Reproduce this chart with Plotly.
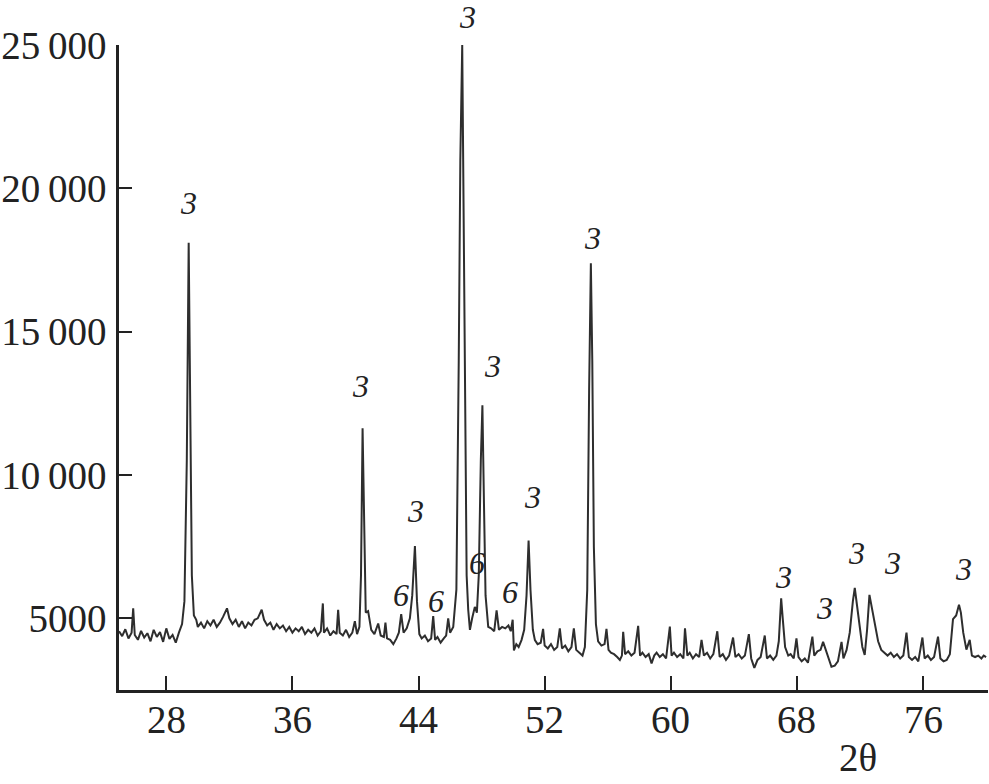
import plotly.graph_objects as go

# ---- Data ----
two_theta = [
    25.0, 25.2, 25.4, 25.6, 25.8, 25.9, 26.0, 26.2, 26.4, 26.6, 26.8, 27.0, 27.2, 27.4, 27.6, 27.8,
    28.0, 28.2, 28.4, 28.6, 28.8, 29.0, 29.15, 29.3, 29.42, 29.52, 29.62, 29.75, 29.9,
    30.0, 30.2, 30.4, 30.6, 30.8, 31.0, 31.2, 31.4, 31.6, 31.85, 32.0, 32.2, 32.4, 32.6, 32.8,
    33.0, 33.2, 33.4, 33.6, 33.8, 34.05, 34.2, 34.4, 34.6, 34.8, 35.0, 35.2, 35.4, 35.6, 35.8,
    36.0, 36.2, 36.4, 36.6, 36.8, 37.0, 37.2, 37.4, 37.6, 37.8, 37.93, 38.0, 38.2, 38.4, 38.6,
    38.8, 38.9, 39.0, 39.2, 39.4, 39.6, 39.8, 39.96, 40.1, 40.25, 40.35, 40.45, 40.55, 40.65,
    40.8, 41.0, 41.2, 41.44, 41.6, 41.8, 41.9, 42.0, 42.2, 42.4, 42.6, 42.75, 42.9, 43.05,
    43.25, 43.45, 43.6, 43.77, 43.9, 44.05, 44.2, 44.4, 44.6, 44.8, 44.93, 45.05, 45.2, 45.4,
    45.6, 45.75, 45.88, 46.0, 46.2, 46.4, 46.55, 46.65, 46.77, 46.85, 46.95, 47.05, 47.15,
    47.26, 47.4, 47.57, 47.7, 47.82, 47.95, 48.05, 48.15, 48.25, 48.42, 48.6, 48.8, 48.95,
    49.1, 49.3, 49.5, 49.7, 49.85, 49.97, 50.05, 50.2, 50.35, 50.53, 50.7, 50.85, 50.98, 51.1,
    51.25, 51.38, 51.55, 51.75, 51.9, 52.0, 52.2, 52.4, 52.6, 52.8, 52.96, 53.1, 53.3, 53.5,
    53.7, 53.85, 54.0, 54.2, 54.4, 54.55, 54.7, 54.82, 54.93, 55.02, 55.12, 55.25, 55.39,
    55.6, 55.8, 55.92, 56.05, 56.2, 56.4, 56.6, 56.77, 56.9, 56.98, 57.1, 57.3, 57.5, 57.7,
    57.93, 58.05, 58.2, 58.4, 58.6, 58.78, 58.95, 59.1, 59.3, 59.5, 59.7, 59.94, 60.05, 60.2,
    60.4, 60.6, 60.8, 60.9, 61.05, 61.2, 61.4, 61.6, 61.8, 61.95, 62.1, 62.3, 62.5, 62.7,
    62.95, 63.1, 63.3, 63.5, 63.7, 63.95, 64.1, 64.3, 64.5, 64.7, 64.95, 65.1, 65.3, 65.5,
    65.7, 65.96, 66.1, 66.3, 66.5, 66.7, 66.85, 67.0, 67.1, 67.25, 67.45, 67.6, 67.8, 67.97,
    68.1, 68.3, 68.5, 68.7, 68.98, 69.1, 69.3, 69.5, 69.66, 69.8, 70.0, 70.19, 70.4, 70.6,
    70.83, 70.95, 71.15, 71.35, 71.55, 71.67, 71.8, 71.99, 72.15, 72.3, 72.45, 72.6, 72.75,
    72.94, 73.15, 73.35, 73.55, 73.75, 73.95, 74.15, 74.35, 74.55, 74.75, 74.95, 75.1, 75.3,
    75.5, 75.7, 75.96, 76.1, 76.3, 76.5, 76.7, 76.95, 77.1, 77.3, 77.5, 77.7, 77.9, 78.1,
    78.28, 78.4, 78.55, 78.75, 78.96, 79.1, 79.3, 79.5, 79.7, 79.85, 80.0,
]

intensity = [
    4550, 4380, 4620, 4300, 4500, 5350, 4420, 4250, 4560, 4330, 4480, 4200, 4600, 4350, 4520, 4180,
    4650, 4280, 4420, 4150, 4500, 4800, 5600, 10500, 18100, 12000, 6500, 5100, 4950,
    4700, 4850, 4650, 4900, 4750, 4950, 4700, 4850, 5050, 5350, 5000, 4800, 4950, 4700, 4900,
    4650, 4850, 4750, 4950, 5000, 5300, 4950, 4750, 4850, 4600, 4800, 4650, 4750, 4550, 4700,
    4500, 4650, 4550, 4700, 4450, 4600, 4500, 4650, 4400, 4550, 5520, 4500, 4650, 4400, 4550,
    4450, 5300, 4500, 4400, 4600, 4350, 4500, 4900, 4450, 4700, 6500, 11630, 8000, 5200,
    5250, 4600, 4450, 4820, 4400, 4350, 4850, 4300, 4250, 4100, 4300, 4500, 5150, 4500,
    4650, 5000, 5800, 7520, 5600, 4450, 4300, 4400, 4200, 4300, 5080, 4250, 4350, 4150,
    4300, 4400, 5000, 4500, 4700, 6000, 14000, 21000, 25000, 20000, 11000, 6500, 5300,
    4600, 5000, 5400, 5200, 6500, 10500, 12430, 9000, 5800, 4700, 4650, 4550, 5280,
    4600, 4700, 4650, 4750, 4550, 4950, 3880, 4100, 4000, 4240, 4600, 5800, 7710, 6000,
    4600, 4240, 4100, 4150, 4630, 4050, 3950, 4100, 3900, 4000, 4650, 3950, 4050, 3850,
    4000, 4650, 3900, 3800, 3700, 4000, 6000, 13000, 17390, 14000, 7500, 4800, 4200,
    4050, 4100, 4630, 3900, 3800, 3750, 3650, 3550, 3700, 4530, 3750, 3850, 3700, 3800,
    4740, 3700, 3800, 3650, 3750, 3430, 3700, 3800, 3650, 3750, 3600, 4710, 3700, 3800,
    3650, 3750, 3600, 4650, 3700, 3800, 3600, 3750, 3650, 4250, 3700, 3800, 3600, 3750,
    4550, 3650, 3750, 3550, 3700, 4330, 3650, 3750, 3600, 3700, 4450, 3600, 3270, 3550,
    3650, 4400, 3600, 3700, 3550, 3700, 4200, 5700, 5000, 4000, 3700, 3750, 3600, 4300,
    3650, 3500, 3600, 3450, 4360, 3700, 3850, 3900, 4180, 3950, 3600, 3310, 3350, 3500,
    4180, 3600, 3900, 4500, 5600, 6060, 5500, 4740, 4000, 3720, 4600, 5820, 5400,
    4860, 4200, 3900, 3800, 3700, 3800, 3650, 3750, 3600, 3700, 4500, 3650, 3550,
    3650, 3500, 4330, 3600, 3700, 3550, 3650, 4360, 3600, 3500, 3550, 3750, 4975, 5100,
    5470, 5200, 4500, 3910, 4250, 3700, 3650, 3700, 3600, 3700, 3650,
]

# Peak phase labels (label above main peak sits just above the 25 000 limit)
label_x = [29.39, 40.33, 43.83, 47.11, 48.70, 51.21, 55.06, 42.86, 45.10, 47.68, 49.79,
           67.12, 69.77, 71.78, 74.04, 78.58]
label_y = [19476, 13104, 8754, 25985, 13801, 9221, 18266, 5814, 5615, 6919, 5929,
           6452, 5350, 7268, 6919, 6710]
label_text = ["3", "3", "3", "3", "3", "3", "3", "6", "6", "6", "6",
              "3", "3", "3", "3", "3"]

x_ticks = [28, 36, 44, 52, 60, 68, 76]
x_ticktext = ["28", "36", "44", "52", "60", "68", "76"]
y_ticks = [5000, 10000, 15000, 20000, 25000]
y_ticktext = ["5000", "10\u2009000", "15\u2009000", "20\u2009000", "25\u2009000"]
x_title = "2θ"

Y_MIN, Y_MAX = 2500, 25000
X_MIN, X_MAX = 25, 80.12
PLOT_H = 645  # plot-area height in px

FONT = "Liberation Serif, Times New Roman, serif"
AX = "#222222"
TXT = "#222222"

fig = go.Figure()
fig.add_trace(go.Scatter(
    x=two_theta, y=intensity, mode="lines",
    line=dict(color="#2e2e2e", width=2),
    hoverinfo="skip", showlegend=False,
))

# peak labels (italic); labels above the axis top are anchored at the top with a pixel shift
for lx, ly, lt in zip(label_x, label_y, label_text):
    shift = 0
    yy = ly
    if ly > Y_MAX:
        shift = (ly - Y_MAX) / (Y_MAX - Y_MIN) * PLOT_H
        yy = Y_MAX
    fig.add_annotation(x=lx, y=yy, xref="x", yref="y", yshift=shift,
                       text="<i>" + lt + "</i>",
                       showarrow=False, xanchor="center", yanchor="middle",
                       font=dict(family=FONT, size=32, color=TXT))

# x tick labels placed under the ticks
for tv, tt in zip(x_ticks, x_ticktext):
    fig.add_annotation(x=tv, y=-0.045, xref="x", yref="paper", text=tt,
                       showarrow=False, xanchor="center", yanchor="middle",
                       font=dict(family=FONT, size=39, color=TXT))

fig.add_annotation(x=0.85, y=-0.104, xref="paper", yref="paper", text=x_title,
                   showarrow=False, xanchor="center", yanchor="middle",
                   font=dict(family=FONT, size=39, color=TXT))

fig.update_layout(
    width=989, height=784,
    margin=dict(l=119, r=1, t=45, b=94),
    paper_bgcolor="white", plot_bgcolor="white",
    font=dict(family=FONT, size=39, color=TXT),
    xaxis=dict(range=[X_MIN, X_MAX], tickvals=x_ticks, ticks="inside", ticklen=14,
               tickwidth=2, tickcolor=AX, showline=True, linecolor=AX, linewidth=2.5,
               showgrid=False, zeroline=False, showticklabels=False, automargin=False),
    yaxis=dict(range=[Y_MIN, Y_MAX], tickvals=y_ticks, ticktext=y_ticktext,
               ticks="inside", ticklen=13, tickwidth=2, tickcolor=AX, showline=True,
               linecolor=AX, linewidth=2.5, showgrid=False, zeroline=False,
               ticklabelstandoff=2, automargin=False,
               tickfont=dict(family=FONT, size=39, color=TXT)),
)

fig.write_html(
    "out.html",
    config={"displayModeBar": False},
    post_script="document.body.style.margin='0';document.body.style.padding='0';",
)
